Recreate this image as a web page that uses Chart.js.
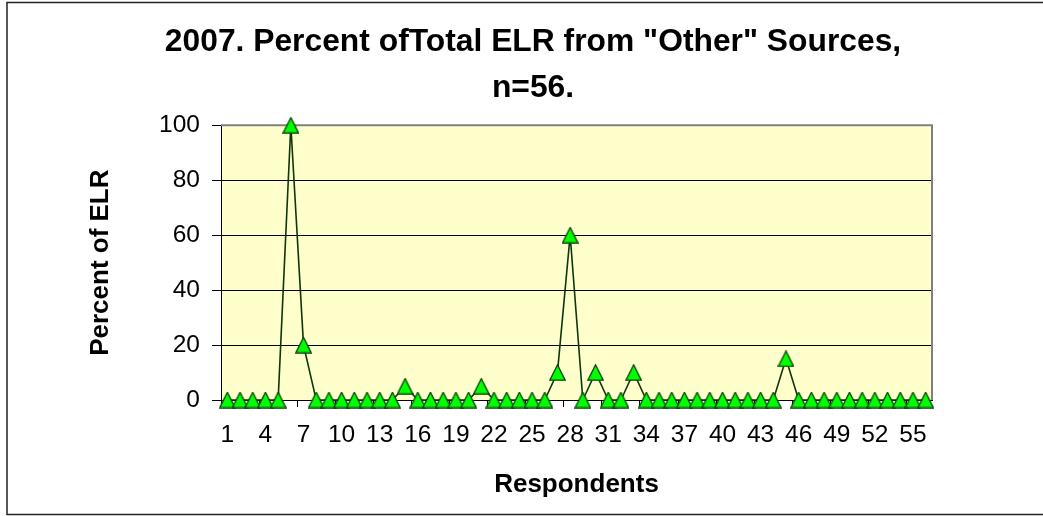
<!DOCTYPE html>
<html>
<head>
<meta charset="utf-8">
<script src="https://cdn.jsdelivr.net/npm/chart.js@4.4.1/dist/chart.umd.min.js"></script>
<style>
  html, body { margin: 0; padding: 0; background: #ffffff; }
  #wrap { width: 1043px; height: 516px; position: relative; }
  canvas { display: block; }
</style>
</head>
<body>
<div id="wrap"><canvas id="c" width="1043" height="516"></canvas></div>
<script>
// ---- data ----
const chartTitle = ['2007. Percent ofTotal ELR from "Other" Sources,', 'n=56.'];
const xTitle = 'Respondents';
const yTitle = 'Percent of ELR';
const respondents = ['1','2','3','4','5','6','7','8','9','10','11','12','13','14','15','16','17','18','19','20',
  '21','22','23','24','25','26','27','28','29','30','31','32','33','34','35','36','37','38','39','40',
  '41','42','43','44','45','46','47','48','49','50','51','52','53','54','55','56'];
const percentOther = [0,0,0,0,0,100,20,0,0,0,0,0,0,0,5,0,0,0,0,0,
  5,0,0,0,0,0,10,60,0,10,0,0,10,0,0,0,0,0,0,0,
  0,0,0,0,15,0,0,0,0,0,0,0,0,0,0,0];
const yTicks = [0,20,40,60,80,100];
const xLabelEvery = 3;

// ---- marker image (triangle, centred on its bounding box) ----
function makeTriangle() {
  const c = document.createElement('canvas');
  c.width = 17; c.height = 17;
  const g = c.getContext('2d');
  g.beginPath();
  g.moveTo(8.5, 0.8);
  g.lineTo(16.2, 16.2);
  g.lineTo(0.8, 16.2);
  g.closePath();
  g.fillStyle = '#00ff00';
  g.fill();
  g.lineWidth = 1.3;
  g.strokeStyle = '#0a400a';
  g.stroke();
  return c;
}
const tri = makeTriangle();

const FONT = '"Liberation Sans", Arial, sans-serif';

const plotDecor = {
  id: 'plotDecor',
  beforeDraw(chart) {
    const {ctx, chartArea: a} = chart;
    ctx.save();
    ctx.fillStyle = '#ffffcc';
    ctx.fillRect(a.left, a.top, a.right - a.left, a.bottom - a.top);
    ctx.restore();
  },
  beforeDatasetsDraw(chart) {
    const {ctx, chartArea: a} = chart;
    ctx.save();
    ctx.strokeStyle = '#808080';
    ctx.lineWidth = 2;
    ctx.beginPath();
    ctx.moveTo(a.left, a.top);
    ctx.lineTo(a.right, a.top);
    ctx.lineTo(a.right, a.bottom);
    ctx.stroke();
    ctx.restore();
  },
  afterDraw(chart) {
    const {ctx} = chart;
    ctx.save();
    ctx.strokeStyle = '#222222';
    ctx.lineWidth = 1.5;
    ctx.strokeRect(7, 2.5, 1045, 512);
    ctx.restore();
  }
};

new Chart(document.getElementById('c'), {
  type: 'line',
  data: {
    labels: respondents,
    datasets: [{
      data: percentOther,
      borderColor: '#0c360c',
      borderWidth: 1.6,
      tension: 0,
      pointStyle: tri,
      pointRadius: 8,
      pointHoverRadius: 8,
      fill: false,
      clip: false
    }]
  },
  plugins: [plotDecor],
  options: {
    responsive: false,
    animation: false,
    devicePixelRatio: 1,
    layout: { padding: { left: 23, right: 0, top: 0, bottom: 0 } },
    plugins: {
      legend: { display: false },
      tooltip: { enabled: false },
      title: {
        display: true,
        text: chartTitle,
        color: '#000000',
        font: { family: FONT, size: 31.8, weight: 'bold', lineHeight: 1.42 },
        padding: { top: 20, bottom: 15 }
      }
    },
    scales: {
      x: {
        type: 'category',
        offset: true,
        grid: {
          offset: true,
          drawOnChartArea: false,
          drawTicks: true,
          tickLength: 7,
          tickColor: (ctx) => (ctx.index % xLabelEvery === 0 ? '#000000' : 'rgba(0,0,0,0)'),
          color: 'rgba(0,0,0,0)'
        },
        border: { display: true, color: '#000000', width: 1 },
        ticks: {
          autoSkip: false,
          maxRotation: 0,
          minRotation: 0,
          padding: 14,
          color: '#000000',
          font: { family: FONT, size: 24.5 },
          callback: function (v, i) { return i % xLabelEvery === 0 ? this.getLabelForValue(v) : ''; }
        },
        title: {
          display: true,
          text: xTitle,
          color: '#000000',
          font: { family: FONT, size: 26, weight: 'bold' },
          padding: { top: 0, bottom: 16 }
        },
        afterFit(s) { s.height = 116; }
      },
      y: {
        type: 'linear',
        position: 'left',
        min: 0,
        max: 100,
        afterBuildTicks(s) { s.ticks = yTicks.map(v => ({ value: v })); },
        grid: {
          color: (ctx) => (ctx.tick && (ctx.tick.value === 100 || ctx.tick.value === 0) ? 'rgba(0,0,0,0)' : '#000000'),
          tickColor: '#000000',
          tickLength: 9,
          lineWidth: 1
        },
        border: { display: true, color: '#000000', width: 1 },
        ticks: {
          padding: 12,
          color: '#000000',
          font: { family: FONT, size: 24.5 }
        },
        title: {
          display: true,
          text: yTitle,
          color: '#000000',
          font: { family: FONT, size: 26, weight: 'bold' },
          padding: { top: 62, bottom: 0 }
        },
        afterFit(s) { s.width = 198; }
      },
      yR: {
        type: 'linear',
        position: 'right',
        display: true,
        grid: { display: false, drawTicks: false },
        border: { display: false },
        ticks: { display: false },
        afterFit(s) { s.width = 111; }
      }
    }
  }
});
</script>
</body>
</html>
